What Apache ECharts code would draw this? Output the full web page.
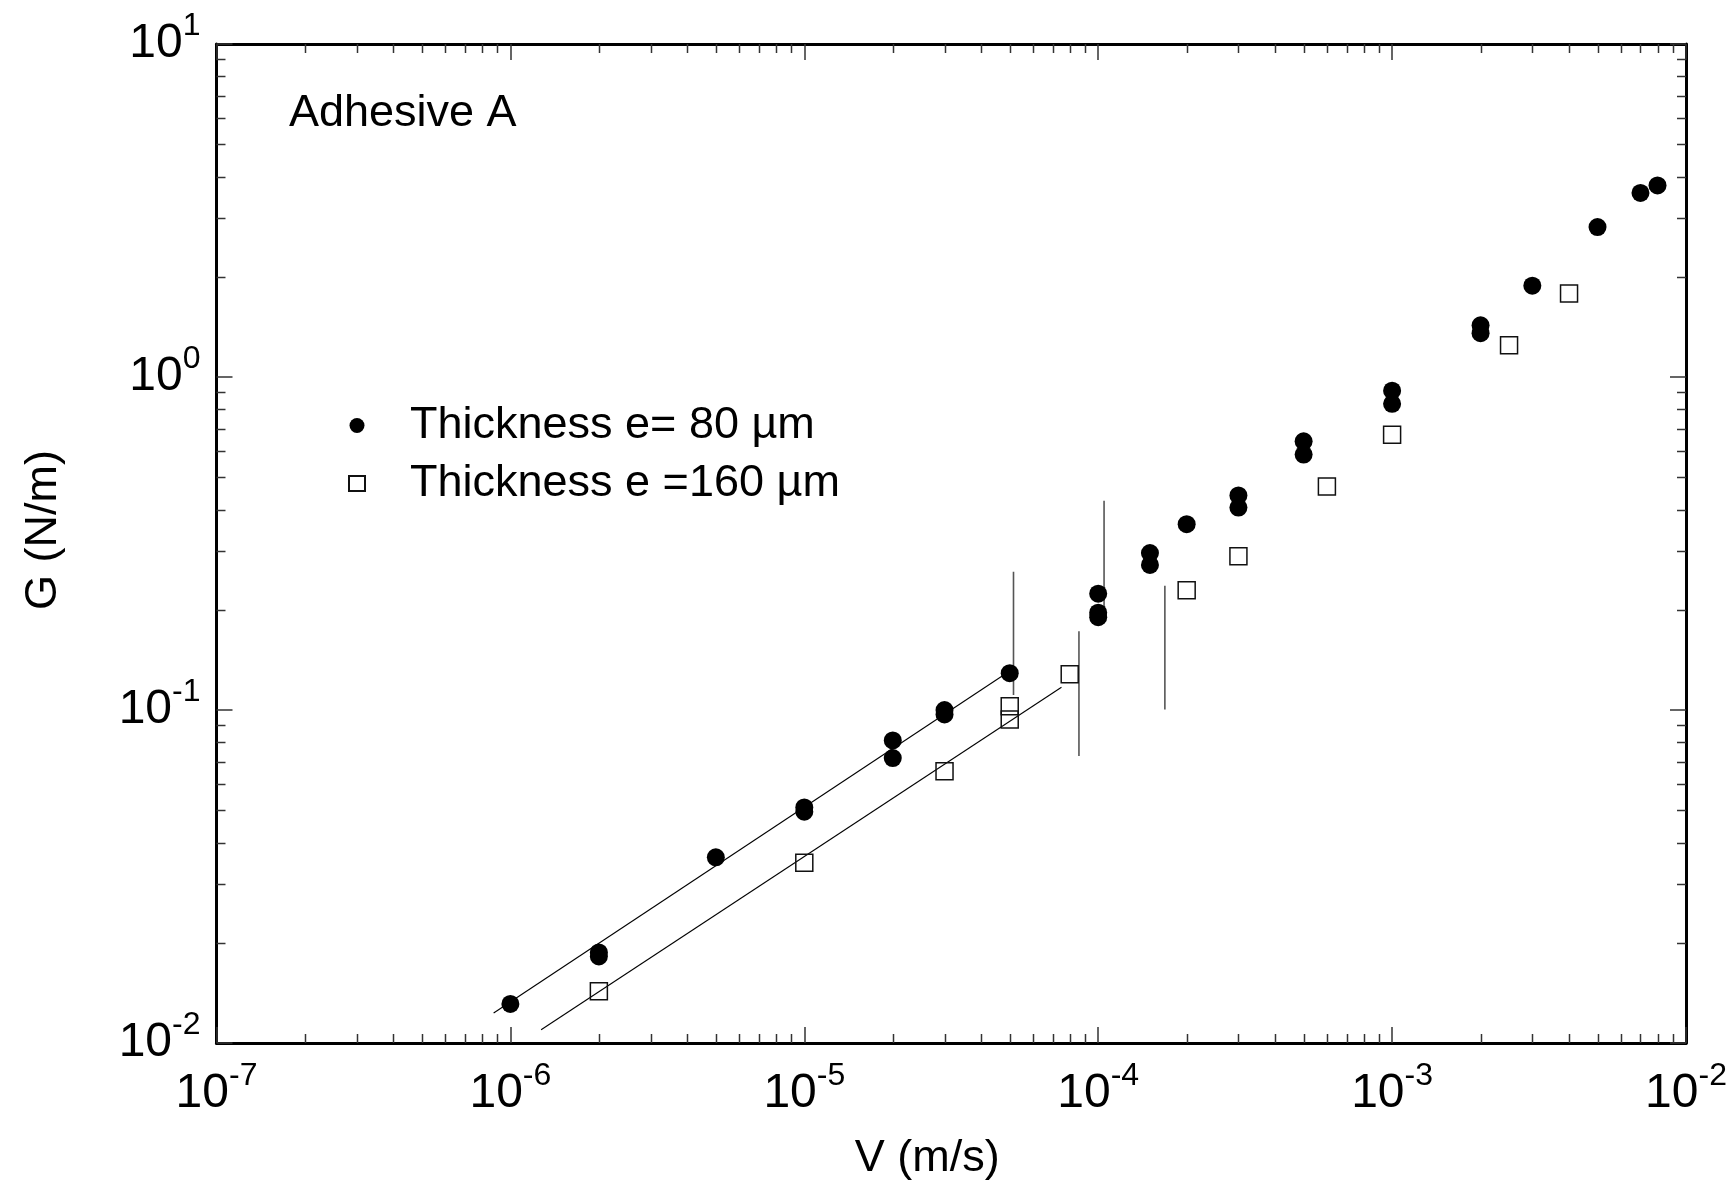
<!DOCTYPE html>
<html>
<head>
<meta charset="utf-8">
<script src="https://cdn.jsdelivr.net/npm/echarts@6/dist/echarts.min.js"></script>
<style>
html,body{margin:0;padding:0;background:#fff;}
#chart{width:1731px;height:1180px;}
</style>
</head>
<body>
<div id="chart"></div>
<script>
// ---- data ----
const v80 = [1e-6, 2e-6, 2e-6, 5e-6, 1e-5, 1e-5, 2e-5, 2e-5, 3e-5, 3e-5, 5e-5,
  1e-4, 1e-4, 1e-4, 1.5e-4, 1.5e-4, 2e-4, 3e-4, 3e-4, 5e-4, 5e-4,
  1e-3, 1e-3, 2e-3, 2e-3, 3e-3, 5e-3, 7e-3, 8e-3];
const g80 = [0.0131, 0.0182, 0.0187, 0.0361, 0.0495, 0.051, 0.081, 0.0717, 0.097, 0.1, 0.129,
  0.2236, 0.196, 0.19, 0.296, 0.2726, 0.3615, 0.441, 0.4055, 0.641, 0.585,
  0.91, 0.831, 1.43, 1.354, 1.88, 2.82, 3.57, 3.76];

const v160 = [2e-6, 1e-5, 3e-5, 5e-5, 5e-5, 8e-5, 2e-4, 3e-4, 6e-4, 1e-3, 2.5e-3, 4e-3];
const g160 = [0.0143, 0.0348, 0.0655, 0.1026, 0.0937, 0.128, 0.2288, 0.2897, 0.469, 0.671, 1.245, 1.78];

// fitted power-law lines (end points)
const fit80V = [8.77e-7, 5.0e-5];
const fit80G = [0.0123, 0.131];
const fit160V = [1.272e-6, 7.5e-5];
const fit160G = [0.01096, 0.117];

// vertical bars
const barV = [5.15e-5, 8.6e-5, 1.047e-4, 1.686e-4];
const barTop = [0.26, 0.1725, 0.425, 0.236];
const barBottom = [0.111, 0.0728, 0.1826, 0.1003];

// axes
const xMin = 1e-7, xMax = 1e-2, yMin = 1e-2, yMax = 10;
const xTickExponents = [-7, -6, -5, -4, -3, -2];
const yTickExponents = [-2, -1, 0, 1];
const legendNames = ['Thickness e= 80 \u00b5m', 'Thickness e =160 \u00b5m'];
const annotation = 'Adhesive A';
const xTitle = 'V (m/s)';
const yTitle = 'G (N/m)';

// minor tick positions (2..9 x 10^n)
const xMinorTicks = [];
for (let d = -7; d < -2; d++) for (let k = 2; k <= 9; k++) xMinorTicks.push(k * Math.pow(10, d));
const yMinorTicks = [];
for (let d = -2; d < 1; d++) for (let k = 2; k <= 9; k++) yMinorTicks.push(k * Math.pow(10, d));

const FONT = '"Liberation Sans", Arial, Helvetica, sans-serif';

function expLabel(v, list) {
  const e = Math.round(Math.log10(v));
  if (list.indexOf(e) < 0) return '';
  return '{a|10}{b|' + e + '}';
}
const richLab = {
  a: {fontSize: 48, fontFamily: FONT, color: '#000', lineHeight: 68},
  b: {fontSize: 32, fontFamily: FONT, color: '#000', lineHeight: 32, verticalAlign: 'top'}
};

const tickStyle = {color: '#333', width: 1.5};
const axisLineStyle = {color: '#000', width: 3};

function pairs(xs, ys) { return xs.map((x, i) => [x, ys[i]]); }

const chart = echarts.init(document.getElementById('chart'), null, {renderer: 'canvas'});

const series = [
  {
    name: legendNames[0], type: 'scatter', data: pairs(v80, g80),
    symbol: 'circle', symbolSize: 18,
    itemStyle: {color: '#000', opacity: 1}, z: 5
  },
  {
    name: legendNames[1], type: 'scatter', data: pairs(v160, g160),
    symbol: 'rect', symbolSize: 17,
    itemStyle: {color: 'rgba(255,255,255,0)', borderColor: '#111', borderWidth: 1.5, opacity: 1}, z: 5
  },
  {
    name: 'fit80', type: 'line', data: pairs(fit80V, fit80G), symbol: 'none',
    lineStyle: {color: '#000', width: 1.1}, z: 3
  },
  {
    name: 'fit160', type: 'line', data: pairs(fit160V, fit160G), symbol: 'none',
    lineStyle: {color: '#000', width: 1.1}, z: 3
  }
];
barV.forEach((v, i) => {
  series.push({
    name: 'bar' + i, type: 'line', data: [[v, barTop[i]], [v, barBottom[i]]], symbol: 'none',
    lineStyle: {color: '#555', width: 1.6}, z: 3
  });
});
series.push({
  name: 'minorTicks', type: 'custom', silent: true, clip: false, z: 2,
  data: [[1e-5, 0.1]],
  renderItem: function (params, api) {
    const bl = api.coord([xMin, yMin]);
    const tr = api.coord([xMax, yMax]);
    const ch = [];
    const st = {stroke: '#333', lineWidth: 1.5};
    xMinorTicks.forEach(v => {
      const px = Math.round(api.coord([v, yMin])[0]) + 0.5;
      ch.push({type: 'line', shape: {x1: px, y1: bl[1], x2: px, y2: bl[1] - 9}, style: st});
      ch.push({type: 'line', shape: {x1: px, y1: tr[1], x2: px, y2: tr[1] + 9}, style: st});
    });
    yMinorTicks.forEach(v => {
      const py = Math.round(api.coord([xMin, v])[1]) + 0.5;
      ch.push({type: 'line', shape: {x1: bl[0], y1: py, x2: bl[0] + 9, y2: py}, style: st});
      ch.push({type: 'line', shape: {x1: tr[0], y1: py, x2: tr[0] - 9, y2: py}, style: st});
    });
    return {type: 'group', children: ch};
  }
});

const option = {
  animation: false,
  backgroundColor: '#fff',
  textStyle: {fontFamily: FONT},
  grid: {left: 216.5, right: 45, top: 44, bottom: 137, containLabel: false, outerBoundsMode: 'none'},
  legend: {
    data: [{name: legendNames[0], icon: 'circle'}, {name: legendNames[1], icon: 'rect'}],
    orient: 'vertical', left: 343, top: 398,
    itemWidth: 16, itemHeight: 15, itemGap: 13,
    textStyle: {fontSize: 45, fontFamily: FONT, color: '#000', lineHeight: 45, padding: [0, 0, 0, 40]},
    selectedMode: false
  },
  xAxis: [
    {
      type: 'log', logBase: 10, min: xMin, max: xMax, splitNumber: 5,
      position: 'bottom',
      name: xTitle, nameLocation: 'middle', nameGap: 93,
      nameTextStyle: {fontSize: 45, fontFamily: FONT, color: '#000', padding: [0, 48, 0, 0]},
      axisLine: {show: true, lineStyle: axisLineStyle},
      axisTick: {show: true, inside: true, length: 16, lineStyle: tickStyle},
      axisLabel: {margin: 17, formatter: v => expLabel(v, xTickExponents), rich: richLab},
      splitLine: {show: false}
    },
    {
      type: 'log', logBase: 10, min: xMin, max: xMax, splitNumber: 5,
      position: 'top',
      axisLine: {show: true, lineStyle: axisLineStyle},
      axisTick: {show: true, inside: true, length: 16, lineStyle: tickStyle},
      axisLabel: {show: false}, splitLine: {show: false}
    }
  ],
  yAxis: [
    {
      type: 'log', logBase: 10, min: yMin, max: yMax, splitNumber: 3,
      position: 'left',
      name: yTitle, nameLocation: 'middle', nameGap: 150, nameRotate: 90,
      nameTextStyle: {fontSize: 45, fontFamily: FONT, color: '#000', padding: [0, 0, 0, 27]},
      axisLine: {show: true, lineStyle: axisLineStyle},
      axisTick: {show: true, inside: true, length: 16, lineStyle: tickStyle},
      axisLabel: {margin: 16, formatter: v => expLabel(v, yTickExponents), rich: richLab},
      splitLine: {show: false}
    },
    {
      type: 'log', logBase: 10, min: yMin, max: yMax, splitNumber: 3,
      position: 'right',
      axisLine: {show: true, lineStyle: axisLineStyle},
      axisTick: {show: true, inside: true, length: 16, lineStyle: tickStyle},
      axisLabel: {show: false}, splitLine: {show: false}
    }
  ],
  graphic: [
    {
      type: 'text', left: 289, top: 91,
      style: {text: annotation, fontSize: 45, fontFamily: FONT, fill: '#000'}
    }
  ],
  series: series
};
chart.setOption(option);
</script>
</body>
</html>
